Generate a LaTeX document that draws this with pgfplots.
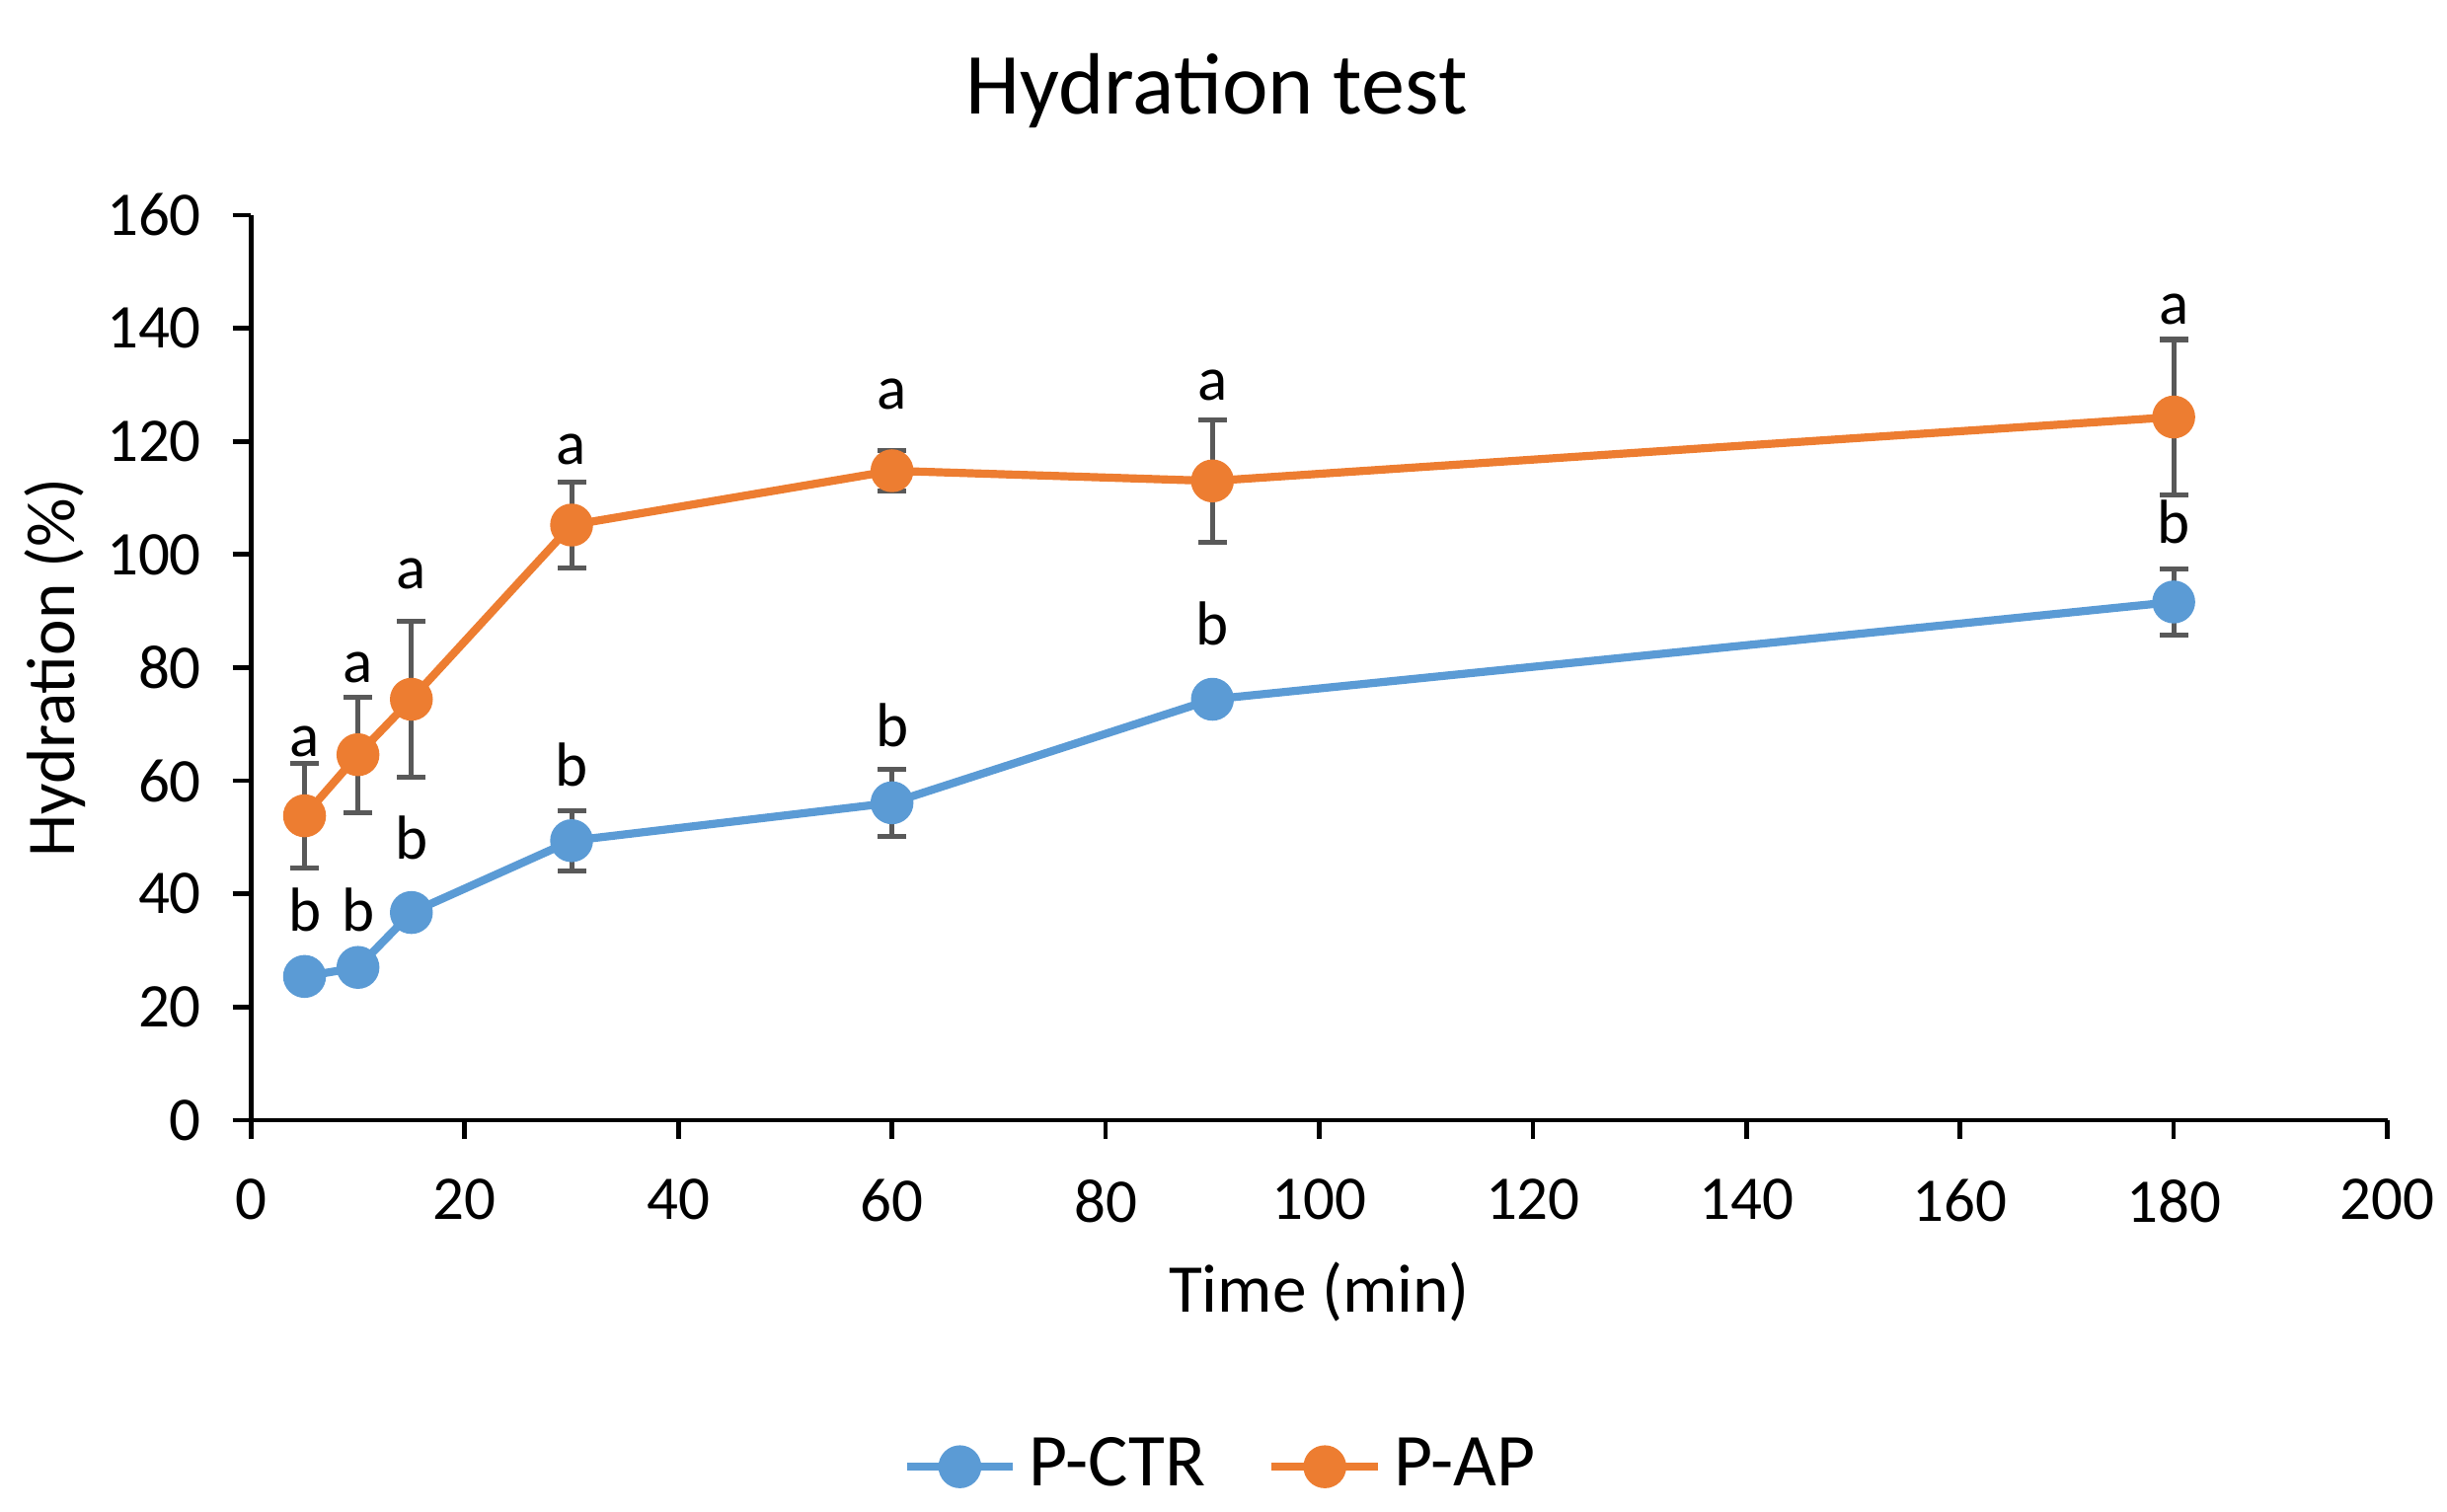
\documentclass[border=0pt]{standalone}
\usepackage{fontspec}
\setmainfont{Carlito}
\usepackage{pgfplots}
\usepackage{pgfplotstable}
\pgfplotsset{compat=1.18}

\definecolor{ctrblue}{HTML}{5B9BD5}
\definecolor{aporange}{HTML}{ED7D31}
\definecolor{errgray}{HTML}{595959}

% time, mean, error
\pgfplotstableread{
t y e
5 25.4 0.8
10 27.0 0.8
15 36.7 1.2
30 49.4 5.3
60 56.1 5.9
90 74.4 0
180 91.6 5.8
}\ctrdata

\pgfplotstableread{
t y e
5 53.8 9.2
10 64.6 10.2
15 74.4 13.8
30 105.2 7.6
60 114.8 3.5
90 113.0 10.8
180 124.3 13.7
}\apdata

% significance letters
\pgfplotstableread{
t y l
5 67.0 a
10 80.0 a
15 96.6 a
30 118.6 a
60 128.3 a
90 129.9 a
180 143.4 a
5 37.2 b
10 37.2 b
15 49.9 b
30 62.9 b
60 69.8 b
90 87.7 b
180 105.7 b
}\letters

\begin{document}
\begin{tikzpicture}
\path[use as bounding box] (-40.4pt,-63pt) rectangle (353.2pt,180.2pt);
\begin{axis}[
    scale only axis,
    width=343.6pt, height=145.6pt,
    xmin=0, xmax=200, ymin=0, ymax=160,
    xtick={0,20,...,200}, ytick={0,20,...,160},
    axis x line*=bottom, axis y line*=left,
    axis line style={black, line width=0.75pt},
    tick align=outside, major tick length=3pt,
    tick style={black, line width=0.75pt},
    ticklabel style={font=\fontsize{10}{12}\selectfont},
    xticklabel style={yshift=-3pt},
    yticklabel style={xshift=-1.5pt},
    /pgf/number format/assume math mode=true,
    title={Hydration test},
    title style={font=\fontsize{14}{17}\selectfont, at={(axis description cs:0.452,1.143)}, anchor=center, yshift=-6.8pt},
    xlabel={Time (min)},
    xlabel style={font=\fontsize{11}{13}\selectfont, at={(axis description cs:0.5,-0.19)}, anchor=center},
    ylabel={Hydration (\%)},
    ylabel style={font=\fontsize{11}{13}\selectfont, at={(axis description cs:-0.092,0.5)}, anchor=center},
    legend style={at={(axis description cs:0.456,-0.383)}, anchor=center, draw=none,
        font=\fontsize{12}{14}\selectfont, legend columns=2,
        /tikz/every even column/.append style={column sep=8pt}},
]
\addplot[ctrblue, line width=1.3pt, mark=*, mark size=2.8pt,
    error bars/.cd, y dir=both, y explicit,
    error bar style={errgray, line width=0.8pt},
    error mark options={errgray, line width=0.8pt, mark size=2.3pt, rotate=90}]
    table[x=t, y=y, y error=e] {\ctrdata};
\addlegendentry{P-CTR}
\addplot[aporange, line width=1.3pt, mark=*, mark size=2.8pt,
    error bars/.cd, y dir=both, y explicit,
    error bar style={errgray, line width=0.8pt},
    error mark options={errgray, line width=0.8pt, mark size=2.3pt, rotate=90}]
    table[x=t, y=y, y error=e] {\apdata};
\addlegendentry{P-AP}
\addplot[draw=none, mark=none, forget plot, nodes near coords, point meta=explicit symbolic,
    every node near coord/.append style={anchor=center, text=black, font=\fontsize{10}{12}\selectfont}]
    table[x=t, y=y, meta=l] {\letters};
\end{axis}
\end{tikzpicture}
\end{document}
